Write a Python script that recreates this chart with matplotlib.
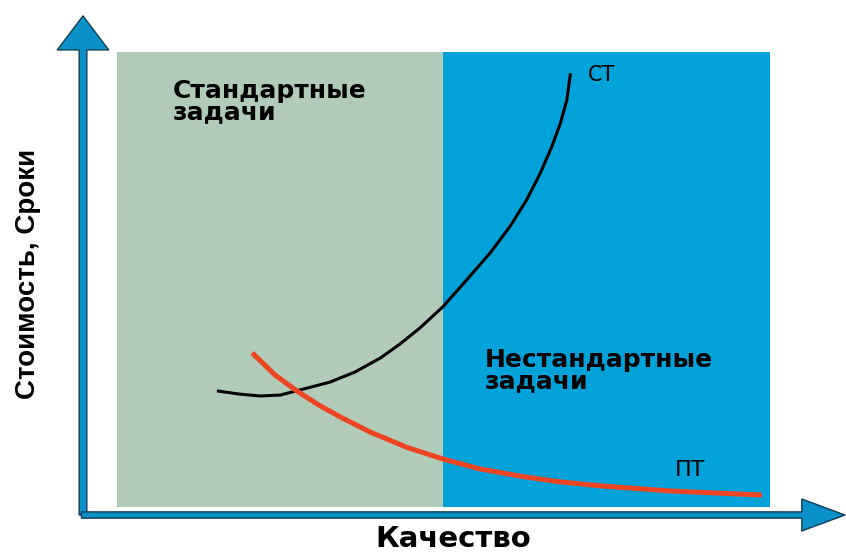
import matplotlib.pyplot as plt
from matplotlib.patches import FancyArrowPatch

# quality (x) vs cost/time (y), arbitrary units 0..10
region_bounds = [0.47, 5.0, 9.54]          # standard | non-standard
region_bottom = 0.17
region_labels = ["Стандартные\nзадачи", "Нестандартные\nзадачи"]

ct_x = [1.86, 2.18, 2.46, 2.74, 3.01, 3.43, 3.78, 4.13, 4.40, 4.68, 5.00, 5.33,
        5.65, 5.93, 6.16, 6.35, 6.51, 6.63, 6.72, 6.77]
ct_y = [2.68, 2.61, 2.57, 2.59, 2.70, 2.87, 3.09, 3.39, 3.69, 4.04, 4.50, 5.08,
        5.65, 6.23, 6.80, 7.38, 7.95, 8.46, 8.96, 9.54]

pt_x = [2.35, 2.67, 2.97, 3.28, 3.57, 3.99, 4.50, 5.00, 5.50, 6.07, 6.60, 7.18, 8.15, 9.43]
pt_y = [3.50, 3.02, 2.68, 2.37, 2.12, 1.79, 1.46, 1.21, 1.00, 0.84, 0.72, 0.63, 0.52, 0.43]

GREEN = "#b1cbb9"
BLUE = "#00a3d9"
ARROW = "#0a92c8"

fig = plt.figure(figsize=(8.46, 5.53), dpi=100)
ax = fig.add_axes([83 / 846, 38 / 553, 720 / 846, 463 / 553])
ax.set_xlim(0, 10)
ax.set_ylim(0, 10)
ax.set_axis_off()

# background regions
ax.axvspan(region_bounds[0], region_bounds[1], ymin=region_bottom / 10, ymax=1,
           color=GREEN, lw=0, zorder=0)
ax.axvspan(region_bounds[1], region_bounds[2], ymin=region_bottom / 10, ymax=1,
           color=BLUE, lw=0, zorder=0)

ax.text(1.24, 9.42, region_labels[0], fontsize=18, fontweight="bold",
        family="DejaVu Sans", va="top", ha="left", linespacing=0.85)
ax.text(5.58, 3.60, region_labels[1], fontsize=18, fontweight="bold",
        family="DejaVu Sans", va="top", ha="left", linespacing=0.85)

# curves
ax.plot(ct_x, ct_y, color="black", lw=2.2, solid_capstyle="butt", zorder=3)
ax.plot(pt_x, pt_y, color="#ee4422", lw=3.6, solid_capstyle="butt", zorder=4)
ax.text(7.01, 9.50, "СТ", fontsize=15, va="center", ha="left", family="DejaVu Sans")
ax.text(8.22, 0.97, "ПТ", fontsize=16, va="center", ha="left", family="DejaVu Sans")

# axis arrows
yarrow = FancyArrowPatch((0, -0.06), (0, 10.84), mutation_scale=1,
                         arrowstyle="simple,tail_width=5.5,head_width=37,head_length=24.5",
                         fc=ARROW, ec="#123c55", lw=1, clip_on=False, zorder=5)
xarrow = FancyArrowPatch((-0.06, 0), (10.62, 0), mutation_scale=1,
                         arrowstyle="simple,tail_width=4.5,head_width=23,head_length=31",
                         fc=ARROW, ec="#123c55", lw=1, clip_on=False, zorder=5)
ax.add_patch(yarrow)
ax.add_patch(xarrow)

fig.text(28 / 846, 1 - 274 / 553, "Стоимость, Сроки", rotation=90, fontsize=20,
         fontweight="bold", family="Liberation Sans", ha="center", va="center")
fig.text(453 / 846, 1 - 539 / 553, "Качество", fontsize=21, fontweight="bold",
         family="DejaVu Sans", ha="center", va="center")

fig.savefig("out.png", dpi=100)
